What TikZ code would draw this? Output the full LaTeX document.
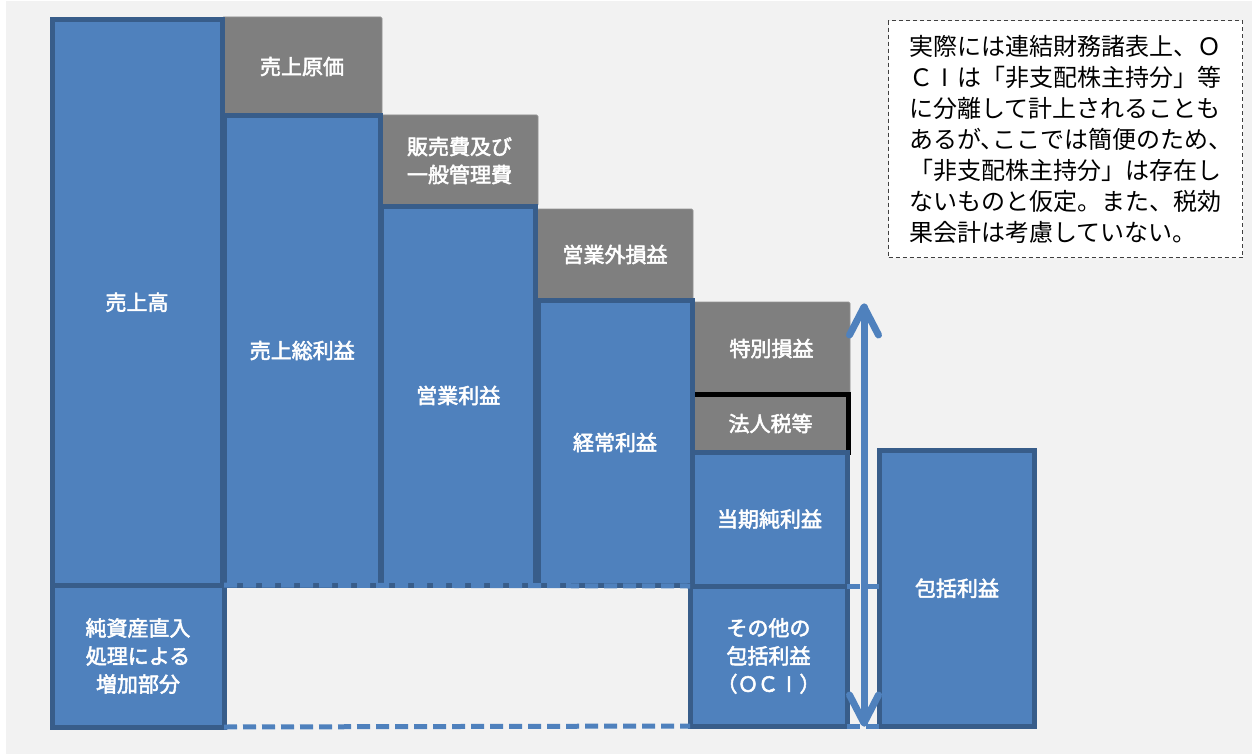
\documentclass[tikz,border=0pt]{standalone}
\usepackage{fontspec}
\setmainfont{Noto Sans CJK JP}
\newfontfamily\lblfont[FakeBold=2.5]{Noto Sans CJK JP}
\definecolor{bfill}{HTML}{4F81BD}
\definecolor{bline}{HTML}{385D8A}
\definecolor{gfill}{HTML}{7F7F7F}
\definecolor{bgc}{HTML}{F2F2F2}
\newcommand{\bx}[7]{\node[#1, minimum width={#5-#3}, minimum height={#6-#4}, anchor=north west] (#2) at (#3,#4) {#7};}
\newcommand{\fwI}{\makebox[1em][c]{I}}
\begin{document}
\begin{tikzpicture}[x=1pt,y=-1pt,
  lbl/.style={text=white,font=\lblfont\fontsize{21}{28}\selectfont,align=center},
  bluebox/.style={lbl,fill=bfill,draw=bline,line width=5pt,inner sep=0pt,outer sep=0pt},
  graybox/.style={lbl,fill=gfill,draw=gfill!85!white,line width=0.8pt,rounded corners=1.5pt,inner sep=0pt,outer sep=0pt},
  dashln/.style={draw=bfill,line width=5pt,dash pattern=on 13pt off 6pt},
  arrowst/.style={draw=bfill,line width=7pt,line cap=round,line join=round},
  notebox/.style={draw=black!75,dash pattern=on 4pt off 3pt,line width=1.1pt,fill=white}]
\useasboundingbox (0,0) rectangle (1252,754);
\fill[white] (0,0) rectangle (1252,754);
\fill[bgc] (6,1) rectangle (1252,754);
% gray boxes
\bx{graybox}{g1}{222}{17}{382}{116}{売上原価}
\bx{graybox}{g2}{381}{115}{538}{206}{販売費及び\\一般管理費}
\bx{graybox}{g3}{537}{209}{693}{300}{営業外損益}
\bx{graybox}{g4}{693}{302}{850}{395}{特別損益}
\bx{graybox}{g5}{693}{395}{848}{452}{法人税等}
\draw[black,line width=5pt] (693,394.5) -- (848.5,394.5) -- (848.5,455);
% blue boxes
\bx{bluebox}{b1}{52}{19.5}{222}{585}{売上高}
\bx{bluebox}{b2}{52}{585}{224}{727}{純資産直入\\処理による\\増加部分}
\bx{bluebox}{b3}{224}{116}{380.5}{585}{売上総利益}
\bx{bluebox}{b4}{381}{206}{535.5}{585}{営業利益}
\bx{bluebox}{b5}{538}{300}{692}{585}{経常利益}
\bx{bluebox}{b6}{692}{452}{847}{586}{当期純利益}
\bx{bluebox}{b7}{690}{586}{847}{726}{その他の\\包括利益\\（Ｏ\kern-0.05emＣ\fwI）}
\bx{bluebox}{b8}{879.5}{450.5}{1034.5}{726}{包括利益}
% dashed connectors
\draw[dashln] (b2.north east) -- (b7.north west);
\draw[dashln] (b2.south east) -- (b7.south west);
\draw[dashln] (b7.north east) -- (b8.west |- b7.north east);
\draw[dashln] (b7.south east) -- (b8.south west);
% double arrow
\coordinate (atop) at (864,307);
\coordinate (abot) at (864,723);
\draw[arrowst] (atop) -- (abot);
\draw[arrowst] (atop) ++(-14.5,28) -- (atop) -- ++(14.5,28);
\draw[arrowst] (abot) ++(-14.5,-28) -- (abot) -- ++(14.5,-28);
% note
\node[notebox,minimum width=354,minimum height=237,anchor=north west,inner sep=0pt] (note) at (888,20) {};
\node[anchor=north west,inner sep=0pt,align=left,font=\fontsize{24}{31}\selectfont,text=black] (notetext) at (909,35)
{実際には連結財務諸表上、Ｏ\\Ｃ\fwI は「非支配株主持分」等\\に分離して計上されることも\\あるが、\kern-0.5em ここでは簡便のため、\\「非支配株主持分」は存在し\\ないものと仮定。また、税効\\果会計は考慮していない。};
\end{tikzpicture}
\end{document}
